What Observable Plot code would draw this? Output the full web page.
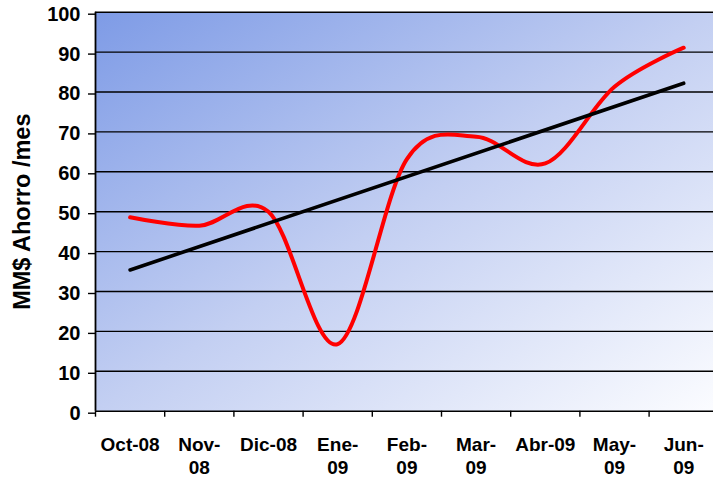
<!DOCTYPE html>
<html>
<head>
<meta charset="utf-8">
<script src="https://cdn.jsdelivr.net/npm/d3@7"></script>
<script src="https://cdn.jsdelivr.net/npm/@observablehq/plot@0.6"></script>
<style>
  html, body { margin: 0; padding: 0; background: #ffffff; }
  #chart svg { display: block; }
</style>
</head>
<body>
<div id="chart"></div>
<script>
// Categories (months) and their printed labels
const months = ["Oct-08", "Nov-08", "Dic-08", "Ene-09", "Feb-09", "Mar-09", "Abr-09", "May-09", "Jun-09"];
const monthLabels = ["Oct-08", "Nov-\n08", "Dic-08", "Ene-\n09", "Feb-\n09", "Mar-\n09", "Abr-09", "May-\n09", "Jun-\n09"];
// Monthly savings (MM$ Ahorro /mes)
const ahorro = [48.6, 46.5, 50.0, 16.8, 63.2, 68.8, 62.1, 81.3, 91.1];
// Linear trend line endpoints
const trendMonths = ["Oct-08", "Jun-09"];
const trendValues = [35.4, 82.2];
// Axis ticks
const yTicks = [0, 10, 20, 30, 40, 50, 60, 70, 80, 90, 100];
const xBoundaries = [0, 1, 2, 3, 4, 5, 6, 7, 8, 9];
const yTitle = "MM$ Ahorro /mes";

const rows = months.map((m, i) => ({pos: i + 0.5, month: m, value: ahorro[i]}));
const trendRows = trendMonths.map((m, j) => ({pos: months.indexOf(m) + 0.5, value: trendValues[j]}));
const labelRows = months.map((m, i) => ({pos: i + 0.5, label: monthLabels[i]}));

const chart = Plot.plot({
  width: 713,
  height: 477,
  marginLeft: 95,
  marginTop: 11.7,
  marginBottom: 66.3,
  marginRight: 0,
  x: {domain: [0, 9], range: [95, 717.8], axis: null},
  y: {domain: [0, 100], axis: null},
  style: {fontFamily: "'Liberation Sans', Arial, sans-serif", fontWeight: "bold", background: "#ffffff", color: "#000"},
  marks: [
    Plot.frame({fill: "url(#bgGrad)", stroke: null}),
    Plot.ruleY(yTicks, {stroke: "#000", strokeWidth: 1.4}),
    Plot.ruleX([0], {stroke: "#000", strokeWidth: 1.8}),
    Plot.axisY({ticks: yTicks, tickSize: 7, tickPadding: 8, fontSize: 20, dy: 2, label: null, stroke: "#000", strokeWidth: 1.4, fill: "#000"}),
    Plot.axisX({ticks: xBoundaries, tickSize: 6, tickFormat: () => "", label: null, stroke: "#000", strokeWidth: 1.4}),
    Plot.text(labelRows, {x: "pos", y: () => 0, text: "label", dy: 24, lineAnchor: "top", lineHeight: 1.2, fontSize: 19, fontWeight: "bold", fill: "#000"}),
    Plot.text([yTitle], {frameAnchor: "left", textAnchor: "middle", dx: -73, rotate: -90, fontSize: 23.5, fontWeight: "bold", fill: "#000"}),
    Plot.line(rows, {x: "pos", y: "value", stroke: "#ff0000", strokeWidth: 4, curve: "cardinal", tension: 0}),
    Plot.line(trendRows, {x: "pos", y: "value", stroke: "#000", strokeWidth: 3.6})
  ]
});

const svg = d3.select(chart);
const defs = svg.insert("defs", ":first-child");
const grad = defs.append("linearGradient")
  .attr("id", "bgGrad")
  .attr("x1", 0).attr("y1", 0).attr("x2", 1).attr("y2", 1);
grad.append("stop").attr("offset", "0%").attr("stop-color", "#7e9be6");
grad.append("stop").attr("offset", "50%").attr("stop-color", "#c3cff2");
grad.append("stop").attr("offset", "100%").attr("stop-color", "#fbfcff");

document.getElementById("chart").appendChild(chart);
</script>
</body>
</html>
